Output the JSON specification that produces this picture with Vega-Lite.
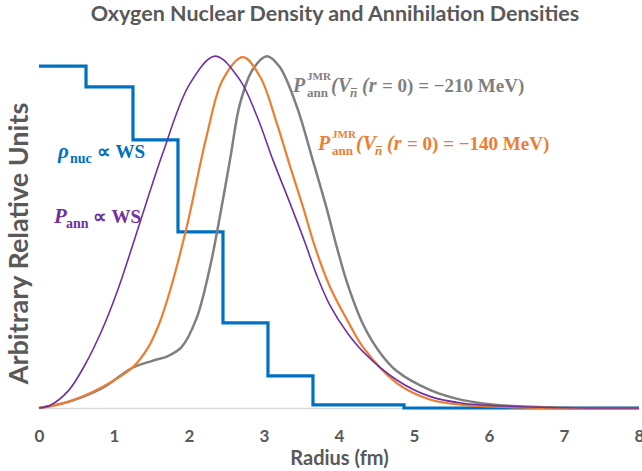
{
  "$schema": "https://vega.github.io/schema/vega-lite/v6.json",
  "width": 600,
  "height": 358,
  "autosize": {"type": "none"},
  "padding": {"left": 39, "top": 50, "right": 3, "bottom": 63},
  "background": "white",
  "title": {
    "text": "Oxygen Nuclear Density and Annihilation Densities",
    "font": "Lato",
    "fontSize": 21.5,
    "fontWeight": "bold",
    "color": "#595959",
    "anchor": "middle",
    "offset": 25,
    "dx": -4
  },
  "config": {"view": {"stroke": null}},
  "datasets": {
    "step": [
      {"x": 0, "v": 1.0, "s": "nuc"},
      {"x": 0.627, "v": 0.939, "s": "nuc"},
      {"x": 1.253, "v": 0.784, "s": "nuc"},
      {"x": 1.853, "v": 0.515, "s": "nuc"},
      {"x": 2.453, "v": 0.249, "s": "nuc"},
      {"x": 3.053, "v": 0.094, "s": "nuc"},
      {"x": 3.653, "v": 0.009, "s": "nuc"},
      {"x": 4.867, "v": 0.0, "s": "nuc"},
      {"x": 8, "v": 0.0, "s": "nuc"}
    ],
    "curves": [
      {"x": 0, "v": 0, "s": "pann"},
      {"x": 0.15, "v": 0.008, "s": "pann"},
      {"x": 0.39, "v": 0.05, "s": "pann"},
      {"x": 0.61, "v": 0.125, "s": "pann"},
      {"x": 0.84, "v": 0.228, "s": "pann"},
      {"x": 1.05, "v": 0.345, "s": "pann"},
      {"x": 1.35, "v": 0.545, "s": "pann"},
      {"x": 1.65, "v": 0.745, "s": "pann"},
      {"x": 2.01, "v": 0.948, "s": "pann"},
      {"x": 2.35, "v": 1.029, "s": "pann"},
      {"x": 2.68, "v": 0.959, "s": "pann"},
      {"x": 2.91, "v": 0.851, "s": "pann"},
      {"x": 3.12, "v": 0.725, "s": "pann"},
      {"x": 3.35, "v": 0.597, "s": "pann"},
      {"x": 3.55, "v": 0.482, "s": "pann"},
      {"x": 3.7, "v": 0.39, "s": "pann"},
      {"x": 3.88, "v": 0.3, "s": "pann"},
      {"x": 4.11, "v": 0.22, "s": "pann"},
      {"x": 4.32, "v": 0.165, "s": "pann"},
      {"x": 4.77, "v": 0.082, "s": "pann"},
      {"x": 5.21, "v": 0.034, "s": "pann"},
      {"x": 5.65, "v": 0.014, "s": "pann"},
      {"x": 6.55, "v": 0.003, "s": "pann"},
      {"x": 8, "v": 0, "s": "pann"},

      {"x": 0, "v": 0, "s": "m140"},
      {"x": 0.39, "v": 0.018, "s": "m140"},
      {"x": 0.84, "v": 0.061, "s": "m140"},
      {"x": 1.24, "v": 0.117, "s": "m140"},
      {"x": 1.45, "v": 0.175, "s": "m140"},
      {"x": 1.6, "v": 0.245, "s": "m140"},
      {"x": 1.75, "v": 0.345, "s": "m140"},
      {"x": 1.97, "v": 0.53, "s": "m140"},
      {"x": 2.24, "v": 0.8, "s": "m140"},
      {"x": 2.45, "v": 0.96, "s": "m140"},
      {"x": 2.72, "v": 1.026, "s": "m140"},
      {"x": 2.95, "v": 0.968, "s": "m140"},
      {"x": 3.17, "v": 0.833, "s": "m140"},
      {"x": 3.35, "v": 0.705, "s": "m140"},
      {"x": 3.52, "v": 0.588, "s": "m140"},
      {"x": 3.68, "v": 0.471, "s": "m140"},
      {"x": 3.88, "v": 0.354, "s": "m140"},
      {"x": 4.11, "v": 0.257, "s": "m140"},
      {"x": 4.32, "v": 0.178, "s": "m140"},
      {"x": 4.77, "v": 0.073, "s": "m140"},
      {"x": 5.21, "v": 0.025, "s": "m140"},
      {"x": 5.65, "v": 0.009, "s": "m140"},
      {"x": 6.5, "v": 0.001, "s": "m140"},
      {"x": 8, "v": 0, "s": "m140"},

      {"x": 0, "v": 0, "s": "m210"},
      {"x": 0.39, "v": 0.018, "s": "m210"},
      {"x": 0.84, "v": 0.058, "s": "m210"},
      {"x": 1.24, "v": 0.117, "s": "m210"},
      {"x": 1.51, "v": 0.138, "s": "m210"},
      {"x": 1.72, "v": 0.152, "s": "m210"},
      {"x": 1.9, "v": 0.178, "s": "m210"},
      {"x": 2.1, "v": 0.262, "s": "m210"},
      {"x": 2.28, "v": 0.412, "s": "m210"},
      {"x": 2.41, "v": 0.558, "s": "m210"},
      {"x": 2.55, "v": 0.73, "s": "m210"},
      {"x": 2.68, "v": 0.89, "s": "m210"},
      {"x": 2.85, "v": 0.99, "s": "m210"},
      {"x": 3.04, "v": 1.029, "s": "m210"},
      {"x": 3.21, "v": 0.997, "s": "m210"},
      {"x": 3.44, "v": 0.88, "s": "m210"},
      {"x": 3.65, "v": 0.725, "s": "m210"},
      {"x": 3.84, "v": 0.58, "s": "m210"},
      {"x": 3.97, "v": 0.471, "s": "m210"},
      {"x": 4.11, "v": 0.365, "s": "m210"},
      {"x": 4.32, "v": 0.245, "s": "m210"},
      {"x": 4.55, "v": 0.161, "s": "m210"},
      {"x": 4.77, "v": 0.108, "s": "m210"},
      {"x": 5.21, "v": 0.053, "s": "m210"},
      {"x": 5.65, "v": 0.023, "s": "m210"},
      {"x": 6.11, "v": 0.009, "s": "m210"},
      {"x": 7, "v": 0.001, "s": "m210"},
      {"x": 8, "v": 0, "s": "m210"}
    ],
    "jmr": [
      {"x": 3.387, "v": 0.924, "s": "m210", "p": "P", "sup": "JMR", "sub": "ann", "a": "(V", "nb": "n", "bar": "¯", "b": "(r", "c": "= 0) = −210 MeV)"},
      {"x": 3.72, "v": 0.754, "s": "m140", "p": "P", "sup": "JMR", "sub": "ann", "a": "(V", "nb": "n", "bar": "¯", "b": "(r", "c": "= 0) = −140 MeV)"}
    ],
    "ws": [
      {"x": 0.253, "v": 0.731, "s": "nuc", "p": "ρ", "sub": "nuc", "c": "∝ WS"},
      {"x": 0.2, "v": 0.541, "s": "pann", "p": "P", "sub": "ann", "c": "∝ WS"}
    ]
  },
  "encoding": {
    "x": {
      "field": "x", "type": "quantitative",
      "scale": {"domain": [0, 8], "nice": false},
      "axis": {
        "title": "Radius (fm)",
        "values": [0, 1, 2, 3, 4, 5, 6, 7, 8],
        "format": "d",
        "ticks": false, "tickSize": 0, "grid": false,
        "domainColor": "#D9D9D9", "domainWidth": 1.5,
        "labelFont": "Lato", "labelFontSize": 17, "labelFontWeight": "bold", "labelColor": "#595959",
        "labelPadding": 20, "labelFlush": false,
        "titleFont": "Lato", "titleFontSize": 20, "titleFontWeight": "bold", "titleColor": "#595959",
        "titlePadding": 4
      }
    },
    "y": {
      "field": "v", "type": "quantitative",
      "scale": {"domain": [0, 1.047], "nice": false},
      "axis": {
        "title": "Arbitrary Relative  Units",
        "labels": false, "ticks": false, "domain": false, "grid": false,
        "titleFont": "Lato", "titleFontSize": 27, "titleFontWeight": "bold", "titleColor": "#595959",
        "titleAngle": 270, "titleAlign": "center", "titleBaseline": "middle",
        "titleX": -20, "titleY": 193
      }
    },
    "color": {
      "field": "s", "type": "nominal",
      "scale": {"domain": ["nuc", "pann", "m140", "m210"], "range": ["#0070C0", "#7030A0", "#ED7D31", "#7F7F7F"]},
      "legend": null
    }
  },
  "layer": [
    {"data": {"name": "step"}, "mark": {"type": "line", "interpolate": "step-after", "strokeWidth": 3.2}},
    {"data": {"name": "curves"}, "transform": [{"filter": "datum.s === 'm210'"}], "mark": {"type": "line", "interpolate": "catmull-rom", "strokeWidth": 2.5}},
    {"data": {"name": "curves"}, "transform": [{"filter": "datum.s === 'm140'"}], "mark": {"type": "line", "interpolate": "catmull-rom", "strokeWidth": 2.2}},
    {"data": {"name": "curves"}, "transform": [{"filter": "datum.s === 'pann'"}], "mark": {"type": "line", "interpolate": "catmull-rom", "strokeWidth": 1.6}},
    {"data": {"name": "jmr"}, "mark": {"type": "text", "align": "left", "baseline": "alphabetic", "font": "Liberation Serif", "fontSize": 20, "fontWeight": "bold", "fontStyle": "italic", "dx": 0}, "encoding": {"text": {"field": "p"}}},
    {"data": {"name": "jmr"}, "mark": {"type": "text", "align": "left", "baseline": "alphabetic", "font": "Liberation Serif", "fontSize": 11, "fontWeight": "bold", "dx": 14, "dy": -12}, "encoding": {"text": {"field": "sup"}}},
    {"data": {"name": "jmr"}, "mark": {"type": "text", "align": "left", "baseline": "alphabetic", "font": "Liberation Serif", "fontSize": 13, "fontWeight": "bold", "dx": 14, "dy": 5}, "encoding": {"text": {"field": "sub"}}},
    {"data": {"name": "jmr"}, "mark": {"type": "text", "align": "left", "baseline": "alphabetic", "font": "Liberation Serif", "fontSize": 20, "fontWeight": "bold", "fontStyle": "italic", "dx": 38}, "encoding": {"text": {"field": "a"}}},
    {"data": {"name": "jmr"}, "mark": {"type": "text", "align": "left", "baseline": "alphabetic", "font": "Liberation Serif", "fontSize": 13, "fontWeight": "bold", "fontStyle": "italic", "dx": 57, "dy": 5}, "encoding": {"text": {"field": "nb"}}},
    {"data": {"name": "jmr"}, "mark": {"type": "text", "align": "left", "baseline": "alphabetic", "font": "Liberation Serif", "fontSize": 12, "fontWeight": "bold", "dx": 58, "dy": 6}, "encoding": {"text": {"field": "bar"}}},
    {"data": {"name": "jmr"}, "mark": {"type": "text", "align": "left", "baseline": "alphabetic", "font": "Liberation Serif", "fontSize": 20, "fontWeight": "bold", "fontStyle": "italic", "dx": 69}, "encoding": {"text": {"field": "b"}}},
    {"data": {"name": "jmr"}, "mark": {"type": "text", "align": "left", "baseline": "alphabetic", "font": "Liberation Serif", "fontSize": 19, "fontWeight": "bold", "dx": 89}, "encoding": {"text": {"field": "c"}}},
    {"data": {"name": "ws"}, "mark": {"type": "text", "align": "left", "baseline": "alphabetic", "font": "Liberation Serif", "fontSize": 21, "fontWeight": "bold", "fontStyle": "italic", "dx": 0}, "encoding": {"text": {"field": "p"}}},
    {"data": {"name": "ws"}, "mark": {"type": "text", "align": "left", "baseline": "alphabetic", "font": "Liberation Serif", "fontSize": 14, "fontWeight": "bold", "dx": 12, "dy": 5}, "encoding": {"text": {"field": "sub"}}},
    {"data": {"name": "ws"}, "mark": {"type": "text", "align": "left", "baseline": "alphabetic", "font": "Liberation Serif", "fontSize": 19, "fontWeight": "bold", "dx": 39}, "encoding": {"text": {"field": "c"}}}
  ]
}
